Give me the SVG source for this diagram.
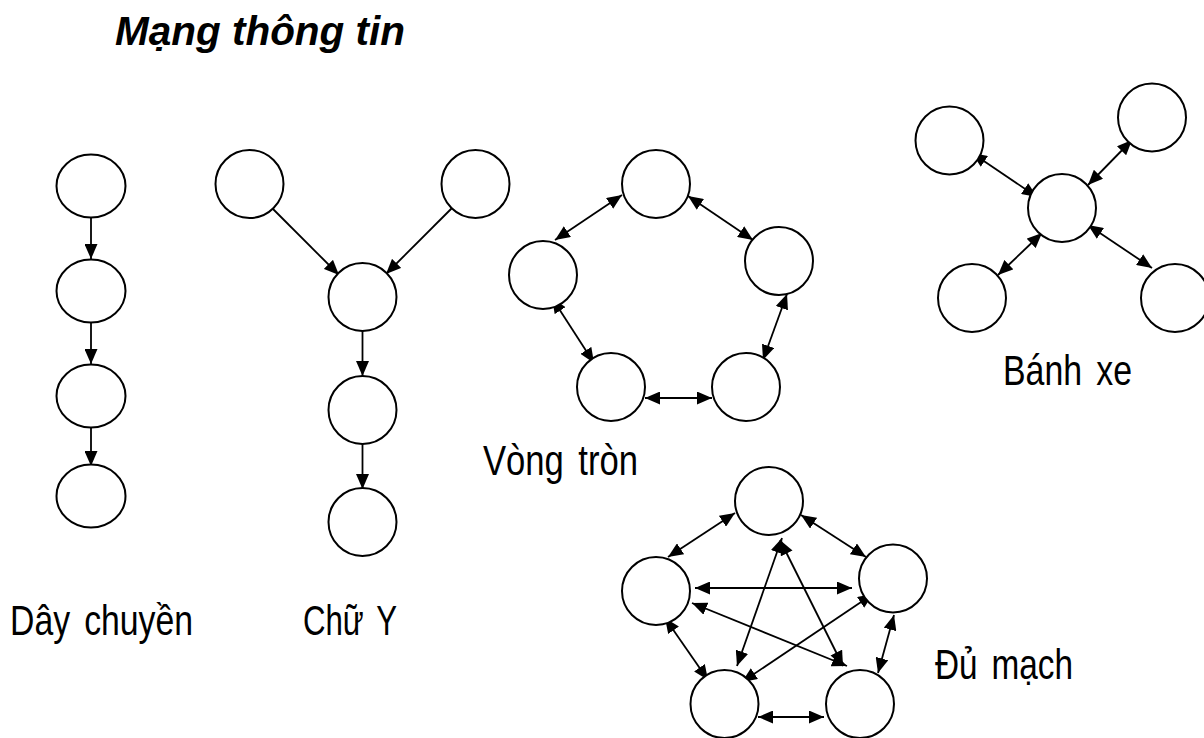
<svg xmlns="http://www.w3.org/2000/svg" width="1204" height="738" viewBox="0 0 1204 738">
<style>
.n{fill:#fff;stroke:#000;stroke-width:2}
.e{fill:none;stroke:#000;stroke-width:1.8}
.one{marker-end:url(#ah)}
.two{marker-start:url(#ah);marker-end:url(#ah)}
.lbl{font-family:"Liberation Sans Narrow","Liberation Sans",Arial,sans-serif;font-size:43px;fill:#000;word-spacing:6px}
.title{font-family:"Liberation Sans",Arial,sans-serif;font-size:41px;font-weight:bold;font-style:italic;fill:#000}
</style>
<defs>
<marker id="ah" viewBox="0 0 15 13" refX="15" refY="6.5" markerWidth="15" markerHeight="13" markerUnits="userSpaceOnUse" orient="auto-start-reverse">
<path d="M0,0 L15,6.5 L0,13 z" fill="#000"/>
</marker>
</defs>
<rect width="1204" height="738" fill="#fff"/>
<text class="title" x="115" y="45" textLength="290" lengthAdjust="spacingAndGlyphs">Mạng thông tin</text>

<g id="connectors">
<line class="e one" x1="91" y1="217" x2="91" y2="259"/>
<line class="e one" x1="91" y1="323" x2="91" y2="364"/>
<line class="e one" x1="91" y1="425" x2="91" y2="466"/>

<line class="e one" x1="273" y1="209" x2="339" y2="275"/>
<line class="e one" x1="453" y1="207" x2="386" y2="274"/>
<line class="e one" x1="362.5" y1="331" x2="362.5" y2="376"/>
<line class="e one" x1="362.5" y1="444" x2="362.5" y2="489"/>

<line class="e two" x1="622" y1="195" x2="555" y2="240"/>
<line class="e two" x1="688" y1="196" x2="753" y2="240"/>
<line class="e two" x1="552" y1="298" x2="594" y2="363"/>
<line class="e two" x1="787" y1="294" x2="763" y2="360"/>
<line class="e two" x1="645" y1="398" x2="712" y2="398"/>

<line class="e two" x1="972" y1="153" x2="1037" y2="197"/>
<line class="e two" x1="1132" y1="140" x2="1088" y2="185"/>
<line class="e two" x1="1042" y1="233" x2="998" y2="275"/>
<line class="e two" x1="1088" y1="225" x2="1152" y2="268"/>

<line class="e two" x1="735" y1="513" x2="668" y2="557"/>
<line class="e two" x1="801" y1="515" x2="866" y2="557"/>
<line class="e two" x1="695" y1="588" x2="852" y2="588"/>
<line class="e two" x1="692" y1="603" x2="847" y2="666"/>
<line class="e two" x1="782" y1="538" x2="737" y2="666"/>
<line class="e two" x1="780" y1="540" x2="843" y2="666"/>
<line class="e two" x1="873" y1="594" x2="742" y2="682"/>
<line class="e two" x1="665" y1="618" x2="708" y2="680"/>
<line class="e two" x1="894" y1="615" x2="878" y2="673"/>
<line class="e two" x1="758" y1="717" x2="824" y2="717"/>
</g>

<g id="chain">
<ellipse class="n" cx="91" cy="186" rx="34.5" ry="31.5"/>
<ellipse class="n" cx="91" cy="291" rx="34.5" ry="31.5"/>
<ellipse class="n" cx="91" cy="396" rx="34.5" ry="31.5"/>
<ellipse class="n" cx="91" cy="496" rx="34.5" ry="31.5"/>
</g>
<g id="y">
<circle class="n" cx="249.5" cy="184" r="34"/>
<circle class="n" cx="475.5" cy="184" r="34"/>
<circle class="n" cx="362.5" cy="297" r="34"/>
<circle class="n" cx="362.5" cy="410" r="34"/>
<circle class="n" cx="362.5" cy="522" r="34"/>
</g>
<g id="ring">
<circle class="n" cx="656" cy="184" r="34"/>
<circle class="n" cx="543" cy="275" r="34"/>
<circle class="n" cx="779" cy="261" r="34"/>
<circle class="n" cx="611" cy="387" r="34"/>
<circle class="n" cx="746" cy="387" r="34"/>
</g>
<g id="wheel">
<circle class="n" cx="949.5" cy="140.5" r="34"/>
<circle class="n" cx="1152" cy="117.5" r="34"/>
<circle class="n" cx="1062" cy="208" r="34"/>
<circle class="n" cx="972" cy="298" r="34"/>
<circle class="n" cx="1175" cy="298" r="34"/>
</g>
<g id="mesh">
<circle class="n" cx="769" cy="501" r="34"/>
<circle class="n" cx="656" cy="591" r="34"/>
<circle class="n" cx="893" cy="578.5" r="34"/>
<circle class="n" cx="724.5" cy="704" r="34"/>
<circle class="n" cx="860" cy="704" r="34"/>
</g>

<g id="labels">
<text class="lbl" x="10" y="635" textLength="183" lengthAdjust="spacingAndGlyphs">Dây chuyền</text>
<text class="lbl" x="303" y="635" textLength="94" lengthAdjust="spacingAndGlyphs">Chữ Y</text>
<text class="lbl" x="483" y="475" textLength="155" lengthAdjust="spacingAndGlyphs">Vòng tròn</text>
<text class="lbl" x="1003" y="385" textLength="129" lengthAdjust="spacingAndGlyphs">Bánh xe</text>
<text class="lbl" x="935" y="679" textLength="138" lengthAdjust="spacingAndGlyphs">Đủ mạch</text>
</g>
</svg>
